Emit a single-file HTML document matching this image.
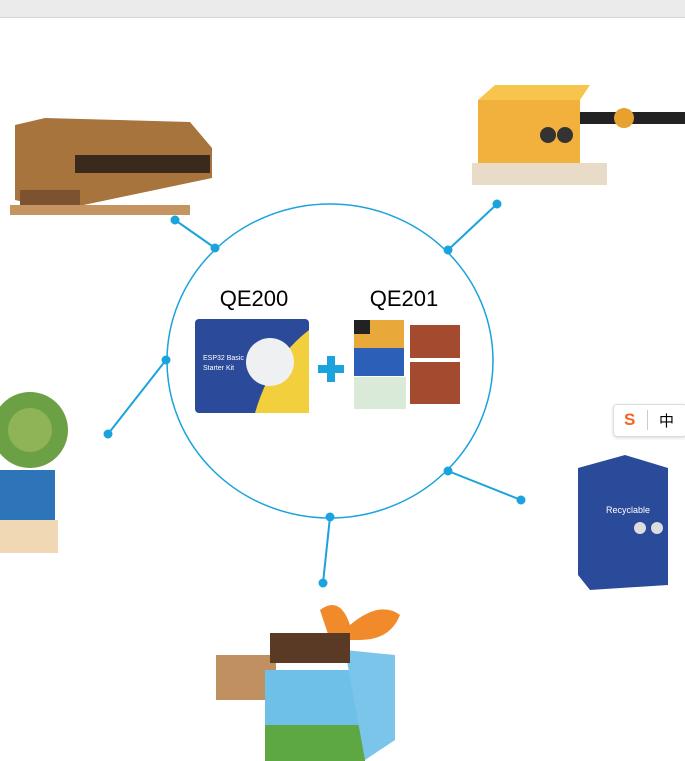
<!DOCTYPE html>
<html><head><style>
body{margin:0;width:685px;height:761px;background:#fff;overflow:hidden;position:relative;font-family:"Liberation Sans",sans-serif}
.bar{position:absolute;left:0;top:0;width:685px;height:17px;background:#ebebeb;border-bottom:1px solid #d6d6d6}
</style></head><body>
<div class="bar"></div>
<svg width="685" height="761" style="position:absolute;left:0;top:0">
<g stroke="#1aa3dc" stroke-width="2" fill="#1aa3dc">
<ellipse cx="330" cy="361" rx="163" ry="157" fill="none" stroke-width="1.5"/>
<line x1="175" y1="220" x2="215" y2="248"/><circle cx="175" cy="220" r="3.5"/><circle cx="215" cy="248" r="3.5"/>
<line x1="497" y1="204" x2="448" y2="250"/><circle cx="497" cy="204" r="3.5"/><circle cx="448" cy="250" r="3.5"/>
<line x1="166" y1="360" x2="108" y2="434"/><circle cx="166" cy="360" r="3.5"/><circle cx="108" cy="434" r="3.5"/>
<line x1="448" y1="471" x2="521" y2="500"/><circle cx="448" cy="471" r="3.5"/><circle cx="521" cy="500" r="3.5"/>
<line x1="330" y1="517" x2="323" y2="583"/><circle cx="330" cy="517" r="3.5"/><circle cx="323" cy="583" r="3.5"/>
</g>
<text x="254" y="306" font-size="22" text-anchor="middle" fill="#000">QE200</text>
<text x="404" y="306" font-size="22" text-anchor="middle" fill="#000">QE201</text>
<!-- QE200 box -->
<rect x="195" y="319" width="114" height="94" rx="4" fill="#2c4a9a"/>
<path d="M255 413 Q270 360 309 330 L309 413Z" fill="#f2cf3c"/>
<circle cx="270" cy="362" r="24" fill="#eef0f2"/>
<text x="203" y="360" font-size="7" fill="#fff">ESP32 Basic</text>
<text x="203" y="370" font-size="7" fill="#fff">Starter Kit</text>
<!-- plus -->
<rect x="318" y="365" width="26" height="8" fill="#1aa3dc"/><rect x="327" y="356" width="8" height="26" fill="#1aa3dc"/>
<!-- QE201 -->
<rect x="354" y="320" width="50" height="30" fill="#e9a83a"/><rect x="354" y="320" width="16" height="14" fill="#222"/>
<rect x="354" y="348" width="50" height="28" fill="#2c5fb8"/>
<rect x="354" y="377" width="52" height="32" fill="#d9ead8"/>
<rect x="410" y="325" width="50" height="33" fill="#a44a2e"/><rect x="410" y="362" width="50" height="42" fill="#a44a2e"/>
<!-- piano -->
<path d="M15 125 L45 118 L190 122 L212 148 L212 178 L60 210 L15 200Z" fill="#a8743e"/>
<rect x="75" y="155" width="135" height="18" fill="#3a2a1e"/>
<rect x="20" y="190" width="60" height="20" fill="#7c5230"/>
<rect x="10" y="205" width="180" height="10" fill="#c49560"/>
<!-- barrier -->
<rect x="478" y="100" width="102" height="65" fill="#f1b13c"/><path d="M478 100 L495 85 L590 85 L580 100Z" fill="#f7c54e"/>
<rect x="580" y="112" width="105" height="12" fill="#222"/><rect x="472" y="163" width="135" height="22" fill="#e8dcc8"/>
<circle cx="548" cy="135" r="8" fill="#333"/><circle cx="565" cy="135" r="8" fill="#333"/>
<circle cx="624" cy="118" r="10" fill="#e6a12f"/>
<!-- wheel -->
<circle cx="30" cy="430" r="38" fill="#6ca044"/><circle cx="30" cy="430" r="22" fill="#8fb456"/>
<rect x="0" y="470" width="55" height="50" fill="#2d74b8"/><rect x="0" y="520" width="58" height="33" fill="#f0d8b4"/>
<!-- recycle -->
<path d="M578 468 L625 455 L668 468 L668 585 L590 590 L578 575Z" fill="#2a4a9a"/>
<text x="628" y="513" font-size="9" fill="#fff" text-anchor="middle">Recyclable</text>
<circle cx="640" cy="528" r="6" fill="#ddd"/><circle cx="657" cy="528" r="6" fill="#ddd"/>
<!-- butterfly -->
<rect x="216" y="655" width="60" height="45" fill="#c09060"/>
<rect x="265" y="670" width="100" height="90" fill="#6fc0e8"/><rect x="265" y="725" width="100" height="36" fill="#5da843"/>
<path d="M345 650 L395 655 L395 740 L365 760Z" fill="#7cc5ea"/>
<path d="M320 610 Q340 595 350 625 Q380 600 400 615 Q390 640 360 640 L330 640Z" fill="#f08a2a"/>
<rect x="270" y="633" width="80" height="30" fill="#5a3a24"/>
</svg>
<div style="position:absolute;left:613px;top:404px;width:72px;height:31px;background:#fff;border:1px solid #ddd;border-radius:4px;box-shadow:0 1px 3px rgba(0,0,0,.15)">
<span style="position:absolute;left:10px;top:5px;color:#f2661f;font-weight:bold;font-size:17px">S</span>
<span style="position:absolute;left:33px;top:5px;width:1px;height:20px;background:#ccc"></span>
<span style="position:absolute;left:45px;top:5px;font-size:15px;font-family:'Noto Sans CJK SC',sans-serif">中</span>
</div>
</body></html>
